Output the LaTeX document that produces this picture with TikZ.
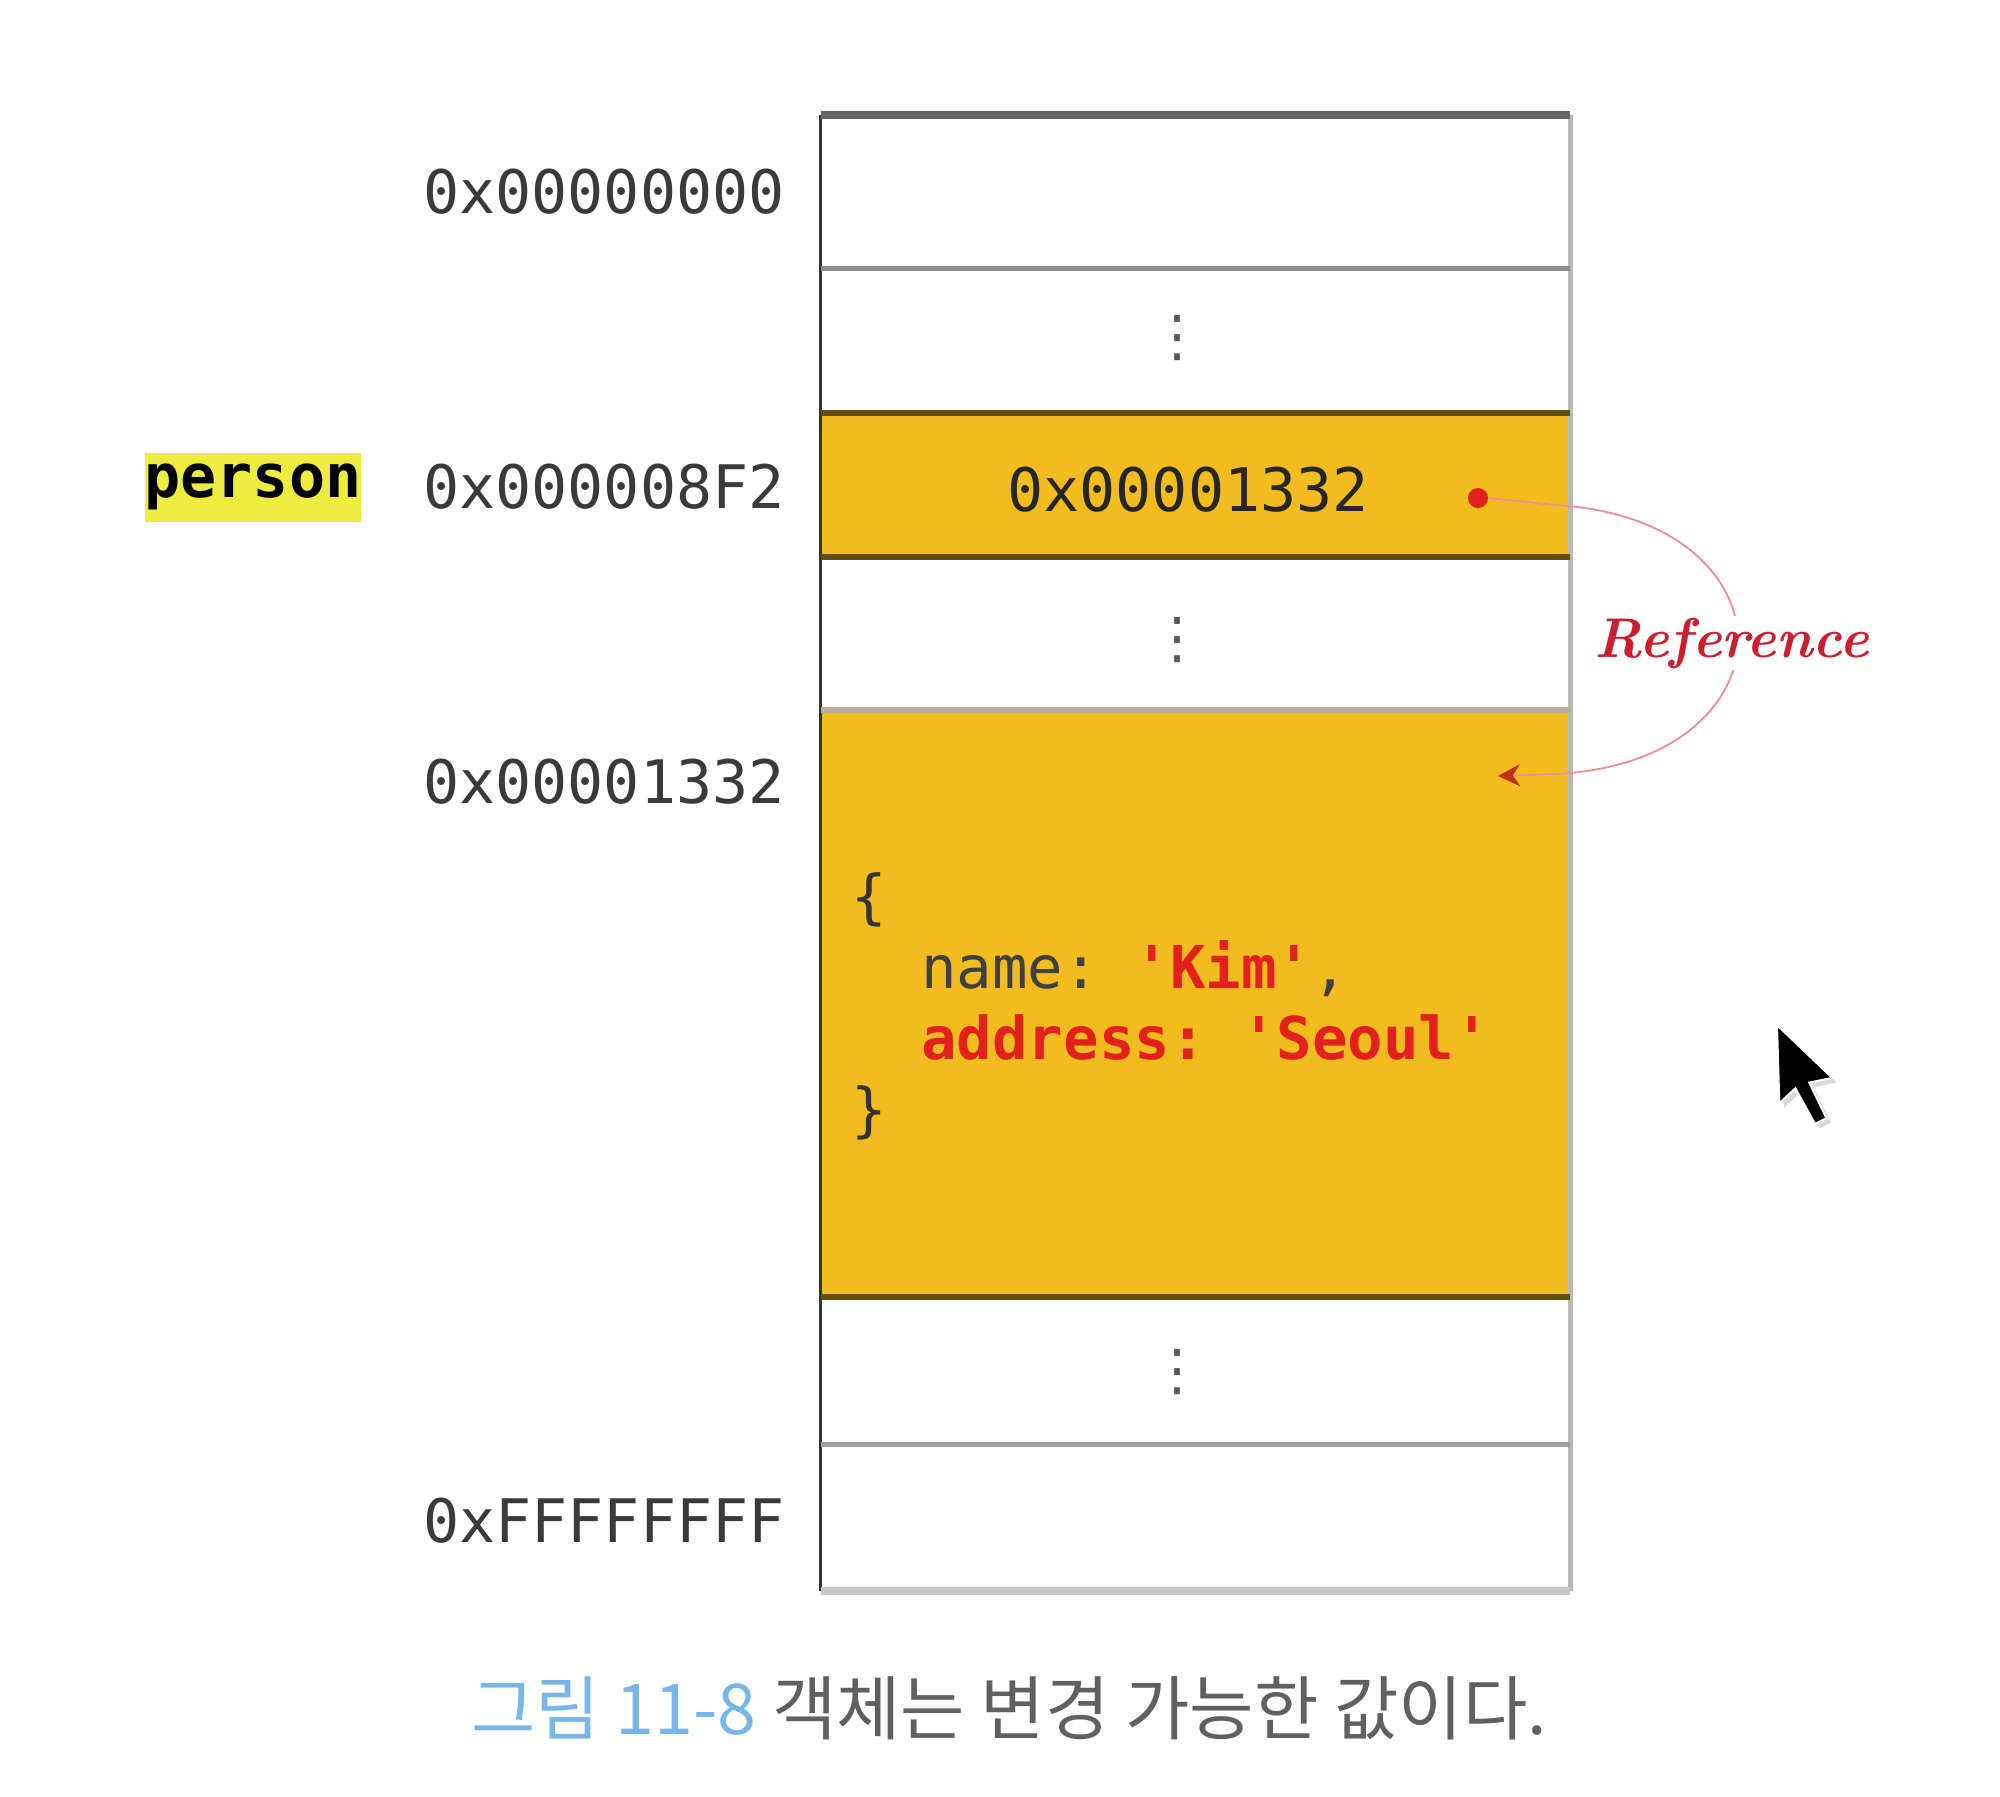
\documentclass[tikz,border=0pt]{standalone}
\usepackage{fontspec}
\setmonofont{DejaVu Sans Mono}
\newfontfamily\cjkfont{Noto Sans CJK KR}
\newfontfamily\symfont{DejaVu Sans}
\usetikzlibrary{arrows.meta}
\definecolor{memyellow}{RGB}{243,188,30}
\definecolor{hlyellow}{RGB}{238,236,62}
\definecolor{codered}{RGB}{226,32,28}
\definecolor{addrgray}{RGB}{58,58,58}
\definecolor{refred}{RGB}{205,30,48}
\definecolor{refpink}{RGB}{240,140,150}
\definecolor{capblue}{RGB}{120,182,232}
\definecolor{capgray}{RGB}{96,96,96}
\definecolor{olive}{RGB}{100,78,12}
\definecolor{tipred}{RGB}{190,50,20}
\begin{document}
\begin{tikzpicture}[x=0.5pt,y=-0.5pt,
  cell/.style={draw=none,inner sep=0pt,minimum width=374.5pt},
  yelcell/.style={cell,fill=memyellow},
  addr/.style={font=\ttfamily\fontsize{30pt}{36pt}\selectfont,text=addrgray,anchor=east,inner sep=0pt},
  code/.style={font=\ttfamily\fontsize{29.5pt}{35pt}\selectfont,anchor=base west,inner sep=0pt},
  vdots/.style={font=\symfont\fontsize{28pt}{30pt}\selectfont,text=black!65,inner sep=0pt},
  graysep/.style={draw=black!45,line width=2.5pt},
  olivesep/.style={draw=olive,line width=3pt},
  refline/.style={draw=refpink,line width=0.9pt},
  reflabel/.style={font=\fontsize{28pt}{32pt}\selectfont\bfseries\itshape,text=refred,fill=white,inner sep=1pt},
  caption/.style={font=\cjkfont\fontsize{35pt}{40pt}\selectfont,text=capgray,inner sep=0pt}
]
\useasboundingbox (0,0) rectangle (2000,1796);
% memory rows
\node[cell,minimum height=76.5pt] (r1) at (1195.5,191.5) {};
\node[cell,minimum height=72.5pt] (r2) at (1195.5,340.5) {};
\node[yelcell,minimum height=72pt] (r3) at (1195.5,485) {};
\node[cell,minimum height=76.5pt] (r4) at (1195.5,633.5) {};
\node[yelcell,minimum height=293.5pt] (r5) at (1195.5,1003.5) {};
\node[cell,minimum height=73.5pt] (r6) at (1195.5,1370.5) {};
\node[cell,minimum height=73.5pt] (r7) at (1195.5,1517.5) {};
% borders
\draw[draw=black!80,line width=1.5pt] (r1.north west) -- (r7.south west);
\draw[draw=black!28,line width=2.5pt] (r1.north east) -- (r7.south east);
\draw[draw=black!60,line width=4pt] (r1.north west) -- (r1.north east);
\draw[graysep] (r1.south west) -- (r1.south east);
\draw[olivesep] (r3.north west) -- (r3.north east);
\draw[olivesep] (r3.south west) -- (r3.south east);
\draw[draw=olive!75!black!40,line width=3pt] (r5.north west) -- (r5.north east);
\draw[olivesep] (r5.south west) -- (r5.south east);
\draw[draw=black!38,line width=2.5pt] (r6.south west) -- (r6.south east);
\draw[draw=black!22,line width=4pt] (r7.south west) -- (r7.south east);
% vertical ellipses
\node[vdots] (d1) at (1177,338) {⋮};
\node[vdots] (d2) at (1177,640) {⋮};
\node[vdots] (d3) at (1177,1372) {⋮};
% address labels
\node[addr] (a1) at (785,192) {0x00000000};
\node[addr] (a2) at (785,487) {0x000008F2};
\node[addr] (a3) at (785,782) {0x00001332};
\node[addr] (a4) at (785,1521) {0xFFFFFFFF};
\node[font=\ttfamily\bfseries\fontsize{30pt}{36pt}\selectfont,fill=hlyellow,inner xsep=0pt,inner ysep=0pt,minimum height=34.5pt,text=black] (person) at (253,487) {person};
% value in variable cell
\node[font=\ttfamily\fontsize{30pt}{36pt}\selectfont,text=black!85,inner sep=0pt] (val) at (1188,490) {0x00001332};
\node[circle,fill=codered,inner sep=0pt,minimum size=10pt] (refdot) at (1478,498) {};
% object code
\node[code,text=black!80] (c1) at (851,917) {\{};
\node[code] (c2) at (921,988) {\textcolor{black!75}{name:} \textcolor{codered}{\bfseries 'Kim'}\textcolor{black!75}{,}};
\node[code,text=codered,font=\ttfamily\bfseries\fontsize{29.5pt}{35pt}\selectfont] (c3) at (921,1059) {address: 'Seoul'};
\node[code,text=black!80] (c4) at (851,1130) {\}};
% reference connector
\coordinate (objref) at (1498,776);
\draw[refline,-{Stealth[length=11pt,width=11pt,color=tipred]}]
  (refdot.east) -- (1555,505) .. controls (1680,512) and (1738,580) .. (1738,640)
  .. controls (1738,700) and (1680,768) .. (1555,774) -- (objref);
\node[reflabel] (reflbl) at (1732,643) {Reference};
% mouse cursor
\begin{scope}[shift={(1777,1025)},scale=1.15]
\fill[black!15] (4,4) -- (6,72) -- (20,59) -- (37,90) -- (47,85) -- (32,54) -- (52,50) -- cycle;
\filldraw[fill=black,draw=white,line width=1pt] (0,0) -- (2,68) -- (16,55) -- (33,86) -- (43,81) -- (28,50) -- (48,46) -- cycle;
\end{scope}
% caption
\node[caption] (cap) at (1009,1708) {\textcolor{capblue}{그림 11-8} 객체는 변경 가능한 값이다.};
\end{tikzpicture}
\end{document}
